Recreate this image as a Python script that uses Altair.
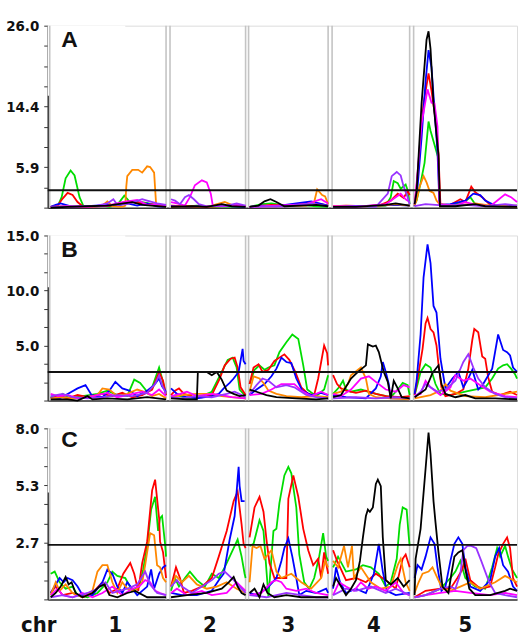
import altair as alt
import pandas as pd

# ---------------- categories / layout data ----------------
SERIES = ["green", "red", "blue", "orange", "magenta", "purple", "black"]
COLORS = ["#00dd00", "#ff0000", "#0000ff", "#ff8800", "#ff00ff", "#9933ff", "#000000"]
CHR_NAMES = ["1", "2", "3", "4", "5"]
CHR_SPLITS = [122, 201, 285, 367]          # positions separating chromosomes
CHR_LABEL_POS = [68, 163, 242, 328, 420]   # chromosome label centres
BOUNDARY_LINES = [2, 119, 123, 199, 202, 282, 286, 364, 368]
X_MAX = 472

# panel A ------------------------------------------------------------
A_green = [(3,0.1),(10,0.2),(14,1.5),(18,4.2),(23,5.3),(27,4.6),(32,1.5),(36,0.2),(45,0.1),(55,0.3),(62,0.1),(70,0.4),(77,1.7),(82,0.9),(95,0.8),(105,0.5),(115,0.2),(119,0.1),
           (124,0.2),(135,0.1),(150,0.3),(165,0.1),(180,0.2),(199,0.1),
           (203,0.1),(215,0.5),(225,0.6),(240,0.3),(255,0.4),(270,0.2),(282,0.1),
           (287,0.1),(300,0.2),(320,0.1),(340,0.3),(345,1.5),(348,3.8),(352,3.5),(355,2.7),(360,3.3),(362,2.5),(364,0.5),
           (369,0.5),(371,1.0),(375,3.5),(379,6.4),(383,12.3),(385,11.0),(388,9.5),(391,8.0),(393,7.0),(394,0.6),(400,0.3),(410,0.5),(420,0.9),(425,1.5),(430,0.5),(440,0.3),(455,0.2),(472,0.3)]
A_red = [(3,0.1),(10,0.3),(15,1.3),(20,2.1),(25,1.8),(30,0.8),(36,0.1),(50,0.2),(65,0.3),(80,0.9),(95,0.6),(110,0.4),(119,0.2),
         (124,0.3),(140,0.2),(160,0.1),(185,0.3),(199,0.2),
         (203,0.1),(225,0.4),(245,0.3),(265,0.8),(275,0.5),(282,0.3),
         (287,0.2),(300,0.3),(320,0.2),(335,0.4),(345,1.0),(352,2.0),(358,1.4),(362,2.4),(364,1.8),
         (369,0.3),(371,3.0),(374,8.0),(378,14.9),(383,19.2),(386,16.7),(391,11.6),(393,7.8),(395,0.2),(405,0.4),(415,1.2),(420,0.8),(426,3.0),(430,2.2),(437,1.5),(445,0.4),(460,0.2),(472,0.3)]
A_blue = [(3,0.1),(8,0.4),(13,0.6),(18,0.4),(25,0.1),(40,0.2),(60,0.4),(70,0.3),(80,0.6),(90,0.3),(100,0.6),(110,0.2),(119,0.1),
          (124,0.2),(140,0.1),(170,0.3),(199,0.1),
          (203,0.1),(215,0.3),(230,0.2),(250,0.6),(265,0.9),(282,0.3),
          (287,0.1),(310,0.2),(330,0.3),(350,0.4),(364,0.3),
          (369,0.2),(372,3.0),(376,10.0),(380,18.0),(383,22.5),(386,20.0),(389,14.0),(392,8.0),(394,0.4),(405,0.5),(420,1.0),(428,2.0),(435,1.8),(440,1.0),(450,0.3),(472,0.2)]
A_orange = [(3,0.1),(20,0.2),(40,0.1),(55,0.3),(60,0.9),(65,0.2),(75,0.1),(78,0.3),(79,3.0),(80,4.5),(85,5.4),(91,5.4),(95,5.0),(100,5.9),(103,5.8),(107,5.0),(109,0.5),(115,0.2),(119,0.1),
            (124,0.1),(140,0.2),(150,0.1),(165,0.3),(178,0.8),(185,0.4),(199,0.2),
            (203,0.1),(230,0.2),(260,0.3),(268,0.8),(271,2.6),(276,1.8),(279,1.6),(282,0.5),
            (287,0.2),(310,0.1),(335,0.3),(350,0.5),(364,0.3),
            (369,0.3),(371,1.1),(374,3.0),(378,4.5),(381,3.6),(384,2.4),(388,2.1),(391,1.0),(394,0.5),(410,0.3),(430,0.6),(445,0.3),(460,0.2),(472,0.1)]
A_magenta = [(3,0.1),(20,0.2),(40,0.1),(60,0.3),(75,0.8),(90,1.1),(100,0.4),(110,0.5),(119,0.3),
             (124,0.8),(130,0.6),(138,0.3),(143,1.5),(148,3.2),(155,3.9),(160,3.6),(164,2.0),(166,0.3),(175,0.2),(190,0.4),(199,0.2),
             (203,0.1),(230,0.3),(260,0.5),(275,1.2),(282,0.6),
             (287,0.2),(310,0.1),(340,0.5),(350,1.5),(355,2.0),(360,1.2),(364,0.8),
             (369,0.5),(372,5.0),(376,12.0),(382,16.9),(386,15.0),(389,14.9),(392,11.6),(394,0.5),(410,0.3),(420,0.8),(430,0.4),(445,0.2),(460,1.9),(466,1.5),(472,0.8)]
A_purple = [(3,0.1),(30,0.2),(50,0.3),(60,0.6),(66,1.2),(70,0.4),(80,0.5),(95,1.2),(100,1.0),(110,0.6),(119,0.4),
            (124,1.2),(128,1.0),(133,0.5),(138,1.5),(142,1.8),(147,1.2),(152,0.5),(160,0.2),(180,0.3),(190,0.6),(199,0.3),
            (203,0.1),(240,0.2),(265,0.6),(282,0.2),
            (287,0.1),(310,0.2),(330,0.1),(342,2.0),(346,4.5),(351,5.1),(355,4.6),(358,3.0),(362,1.5),(364,0.5),
            (369,0.2),(380,0.5),(400,0.3),(420,0.4),(440,0.2),(460,0.5),(472,0.3)]
A_black = [(3,0.0),(20,0.1),(40,0.2),(60,0.3),(85,0.8),(95,0.4),(119,0.1),
           (124,0.1),(145,0.2),(160,0.1),(175,0.5),(185,0.2),(199,0.1),
           (203,0.1),(212,0.3),(218,0.9),(224,1.2),(230,0.8),(238,0.2),(255,0.3),(270,0.4),(282,0.2),
           (287,0.1),(310,0.1),(340,0.4),(350,0.6),(364,0.3),
           (369,0.5),(371,2.3),(376,14.9),(381,24.0),(383,25.2),(385,22.7),(388,14.9),(393,7.5),(394.5,0.2),(410,0.2),(430,0.5),(440,0.2),(472,0.1)]

# panel B ------------------------------------------------------------
B_green = [(3,0.3),(10,0.2),(15,0.6),(22,0.2),(35,0.4),(50,0.6),(60,0.9),(70,0.5),(80,0.4),(87,1.9),(93,1.6),(100,0.8),(105,1.2),(112,3.0),(115,2.0),(119,0.5),
           (124,0.3),(130,0.5),(140,0.2),(155,0.4),(165,0.8),(175,2.6),(181,3.7),(186,3.9),(190,3.0),(193,1.0),(199,0.4),
           (203,1.5),(208,2.8),(213,3.2),(218,2.8),(222,3.0),(228,3.2),(233,4.4),(240,5.3),(246,6.0),(252,5.6),(257,3.2),(261,1.0),(270,0.4),(278,1.0),(282,2.3),
           (287,0.6),(293,1.2),(297,1.8),(300,1.0),(305,0.8),(315,1.0),(330,0.6),(345,0.3),(352,1.0),(357,1.6),(362,1.4),(364,0.5),
           (369,0.5),(372,1.5),(375,2.6),(380,3.3),(385,3.0),(390,1.5),(395,0.6),(405,0.5),(420,0.8),(440,1.2),(447,2.0),(453,2.9),(458,3.2),(462,3.3),(466,2.9),(470,2.4),(472,2.0)]
B_red = [(3,0.2),(10,0.4),(20,0.2),(30,0.5),(40,0.3),(55,0.6),(65,0.4),(75,0.7),(85,0.3),(95,0.5),(105,1.0),(112,2.6),(116,1.8),(119,0.5),
         (124,0.5),(128,0.9),(132,1.1),(137,0.6),(145,0.4),(155,0.3),(165,0.5),(173,2.0),(178,3.2),(184,3.8),(188,3.9),(191,3.0),(194,1.2),(199,0.5),
         (203,1.5),(207,3.0),(212,3.3),(216,2.6),(222,2.8),(228,3.6),(233,3.9),(238,4.2),(243,3.7),(249,2.6),(255,1.2),(262,0.6),(268,0.5),(272,2.0),(275,3.5),(278,5.0),(281,4.3),(282,3.2),
         (287,2.3),(291,1.5),(295,1.1),(300,0.9),(310,0.7),(320,0.9),(330,0.6),(340,0.4),(355,0.3),(364,0.4),
         (369,0.5),(373,2.5),(377,4.7),(380,7.0),(382,7.5),(385,6.5),(388,6.2),(391,5.0),(393,3.3),(396,1.2),(400,0.4),(410,0.6),(418,1.0),(423,2.9),(427,5.5),(429,6.5),(433,6.2),(437,4.0),(440,3.8),(443,2.1),(447,0.8),(455,0.5),(465,0.8),(472,0.5)]
B_blue = [(3,0.3),(12,0.2),(20,0.6),(30,1.1),(38,1.4),(44,0.5),(55,0.3),(62,0.9),(68,1.7),(75,1.1),(82,0.9),(90,0.4),(100,0.9),(107,1.4),(112,2.0),(115,1.3),(119,0.8),
          (124,1.1),(130,0.6),(140,0.3),(150,0.2),(165,0.4),(172,0.6),(177,1.1),(183,1.6),(187,2.0),(192,2.6),(196,4.7),(197,3.6),(199,3.3),
          (203,0.5),(210,1.0),(218,1.5),(225,2.2),(230,2.9),(235,3.9),(240,3.5),(245,3.4),(250,2.0),(256,0.9),(265,0.5),(275,0.7),(282,0.5),
          (287,0.5),(300,0.3),(320,0.2),(330,1.1),(335,2.2),(337,3.5),(340,2.6),(343,1.5),(345,0.2),(355,0.2),(364,0.1),
          (369,0.6),(371,1.8),(375,6.0),(378,11.2),(382,14.2),(385,12.5),(388,8.6),(391,8.0),(395,3.8),(400,1.1),(407,2.0),(413,2.6),(418,1.2),(423,2.0),(427,2.8),(433,1.0),(438,1.5),(447,2.9),(453,6.0),(458,4.6),(462,4.4),(465,4.1),(468,3.0),(472,2.6)]
B_orange = [(3,0.2),(15,0.3),(25,0.2),(40,0.3),(50,0.5),(55,1.1),(62,1.0),(70,0.4),(80,0.6),(90,1.0),(97,0.8),(105,0.4),(112,0.6),(119,0.2),
            (124,0.3),(135,0.5),(150,0.6),(165,0.6),(175,0.4),(185,0.3),(199,0.2),
            (203,0.8),(207,2.2),(213,2.0),(217,1.6),(222,0.9),(230,0.6),(240,0.4),(255,0.3),(270,0.4),(282,0.3),
            (287,0.6),(295,0.8),(302,1.5),(305,2.3),(315,3.0),(320,2.0),(323,0.6),(330,0.3),(345,0.2),(364,0.1),
            (369,0.2),(385,0.5),(395,0.9),(400,1.5),(405,0.9),(420,0.4),(440,0.3),(460,0.6),(472,0.8)]
B_magenta = [(3,0.6),(10,0.4),(20,0.5),(30,0.2),(45,0.4),(60,0.7),(70,0.3),(80,0.5),(95,0.8),(105,0.5),(112,1.0),(119,0.4),
             (124,0.4),(133,0.6),(140,0.8),(150,0.4),(165,0.6),(175,0.5),(185,0.3),(199,0.2),
             (203,0.5),(215,0.6),(225,1.0),(235,1.5),(248,1.5),(255,0.9),(265,0.4),(275,0.8),(282,0.5),
             (287,0.6),(295,0.4),(305,1.0),(315,2.0),(323,2.2),(330,1.7),(340,1.0),(350,0.8),(358,1.4),(364,1.2),
             (369,0.5),(375,0.6),(380,1.8),(385,1.2),(395,0.5),(405,1.2),(410,2.3),(418,1.8),(425,2.0),(435,1.4),(445,0.8),(460,0.4),(472,0.3)]
B_purple = [(3,0.4),(15,0.6),(25,0.3),(40,0.2),(55,0.3),(70,0.5),(85,0.4),(100,0.7),(108,1.5),(112,2.3),(115,1.4),(119,0.6),
            (124,0.3),(135,0.2),(150,0.4),(165,0.3),(180,0.6),(188,0.8),(195,0.5),(199,0.3),
            (203,0.6),(210,1.4),(216,2.0),(222,1.8),(230,1.2),(240,1.4),(248,1.2),(260,0.5),(270,0.3),(282,0.2),
            (287,0.2),(310,0.3),(330,0.2),(350,0.3),(364,0.2),
            (369,0.3),(375,0.8),(380,1.5),(385,1.2),(392,0.8),(400,1.0),(410,1.8),(418,3.5),(423,4.2),(428,3.0),(433,2.0),(440,1.2),(450,0.6),(460,0.3),(472,0.2)]
B_black = [(3,0.1),(20,0.1),(30,0.0),(40,0.4),(45,0.1),(60,0.2),(80,0.1),(100,0.3),(119,0.1),
           (124,0.2),(140,0.1),(150,0.1),(151,2.6),(160,2.6),(165,2.3),(170,2.6),(175,1.9),(180,0.9),(187,0.6),(193,0.4),(199,0.5),
           (203,1.0),(210,0.8),(220,0.5),(230,0.3),(250,0.2),(270,0.1),(282,0.2),
           (287,0.3),(295,0.5),(305,2.0),(312,2.6),(320,3.2),(322,5.1),(327,4.9),(330,5.0),(333,4.4),(338,2.6),(342,1.7),(345,0.2),(348,1.8),(352,1.1),(356,0.3),(364,0.2),
           (369,0.3),(380,1.0),(387,2.5),(393,3.2),(396,1.5),(400,0.6),(410,0.3),(420,0.5),(430,0.2),(450,0.2),(472,0.1)]

# panel C ------------------------------------------------------------
C_green = [(3,1.2),(7,1.3),(12,0.8),(18,0.5),(25,0.6),(30,0.2),(40,0.1),(50,0.3),(60,0.8),(65,1.3),(70,1.1),(78,1.0),(85,0.4),(92,0.6),(96,1.4),(100,2.5),(104,4.2),(108,4.8),(111,3.2),(113,3.8),(115,3.9),(118,2.6),(119,2.0),
           (124,0.4),(128,1.0),(132,0.6),(138,1.0),(143,1.3),(150,0.9),(158,0.6),(165,1.2),(172,1.0),(178,1.5),(185,2.2),(191,2.8),(195,2.0),(198,1.2),(199,1.0),
           (203,2.5),(207,2.6),(213,3.7),(217,3.2),(222,0.1),(227,3.2),(230,3.3),(233,4.5),(238,5.8),(242,6.2),(245,5.9),(250,4.3),(253,2.1),(258,0.8),(263,0.5),(268,1.0),(273,2.0),(277,3.1),(280,2.0),(282,1.8),
           (287,1.5),(292,2.0),(300,1.3),(310,1.4),(317,1.6),(325,1.5),(333,1.2),(340,0.6),(345,0.8),(351,1.9),(354,3.5),(357,4.3),(361,4.2),(363,3.0),(364,2.5),
           (369,0.1),(380,0.2),(395,0.5),(405,1.0),(410,1.3),(415,1.8),(420,1.0),(430,0.6),(440,0.5),(447,1.5),(452,2.4),(455,2.0),(460,2.5),(463,2.0),(467,1.4),(472,1.0)]
C_red = [(3,0.3),(8,0.6),(15,0.2),(25,0.3),(35,0.1),(45,0.3),(55,0.8),(62,0.3),(70,0.5),(76,1.2),(83,1.7),(87,1.2),(91,0.4),(95,1.7),(100,2.7),(105,5.1),(108,5.6),(112,3.8),(113,2.7),(116,2.2),(119,1.0),
         (124,0.6),(129,1.5),(133,1.0),(137,0.3),(145,0.4),(155,0.6),(165,1.0),(172,2.0),(180,3.2),(187,4.6),(191,5.05),(195,3.5),(197,2.6),(199,2.4),
         (203,2.9),(208,4.3),(213,4.8),(217,4.1),(220,2.8),(223,1.7),(228,1.0),(240,1.0),(242,4.7),(247,5.8),(252,4.8),(257,3.3),(262,2.3),(267,1.6),(272,1.9),(275,1.0),(278,2.2),(282,1.2),
         (287,2.3),(291,1.8),(295,1.4),(300,0.9),(310,1.0),(320,0.8),(330,1.2),(340,0.9),(350,0.5),(357,1.9),(360,2.1),(364,1.5),
         (369,0.1),(380,0.4),(395,0.5),(405,0.5),(412,1.0),(417,1.4),(420,1.9),(425,0.9),(435,0.5),(445,0.6),(450,1.5),(453,2.1),(458,2.6),(462,2.9),(465,2.4),(468,1.0),(472,0.6)]
C_blue = [(3,0.3),(8,0.7),(12,1.0),(16,0.8),(20,1.0),(25,0.9),(30,0.6),(35,0.2),(45,0.2),(55,0.8),(60,1.4),(65,1.2),(70,0.6),(75,0.3),(80,0.8),(90,0.2),(95,0.4),(100,0.6),(104,1.4),(107,0.5),(112,1.2),(116,1.5),(119,1.6),
          (124,0.3),(135,0.2),(150,0.2),(165,0.4),(172,0.9),(177,1.2),(183,2.8),(188,3.9),(192,6.2),(193,5.3),(195,4.6),(198,4.6),
          (203,0.3),(210,0.2),(220,0.5),(230,1.0),(235,1.8),(238,2.4),(242,2.85),(246,2.0),(250,1.0),(253,0.2),(260,0.4),(270,0.3),(280,0.5),(282,0.3),
          (287,0.5),(290,1.5),(294,0.8),(300,0.3),(310,0.5),(320,0.3),(328,1.2),(333,2.6),(337,1.3),(341,0.4),(350,0.2),(364,0.3),
          (369,1.0),(372,1.6),(376,1.4),(380,2.0),(385,2.9),(389,2.6),(392,1.5),(396,0.4),(400,0.6),(405,1.8),(409,2.6),(413,2.9),(417,2.6),(420,1.5),(425,0.6),(435,0.4),(445,0.9),(450,2.0),(454,2.4),(458,1.6),(463,1.3),(468,0.6),(472,0.4)]
C_orange = [(3,0.2),(8,0.8),(12,0.4),(18,0.7),(25,0.3),(35,0.1),(45,0.4),(50,1.3),(55,1.6),(60,1.6),(65,0.8),(70,0.3),(75,0.8),(80,0.5),(88,0.4),(95,0.8),(98,1.6),(103,3.1),(107,3.0),(110,1.6),(113,1.5),(116,1.0),(119,0.8),
            (124,0.6),(129,1.1),(135,0.8),(142,1.1),(150,0.7),(160,0.5),(170,0.6),(180,0.8),(190,0.5),(199,0.3),
            (203,0.8),(206,2.5),(210,2.4),(214,2.5),(218,1.9),(225,2.3),(230,1.3),(235,1.0),(245,1.2),(255,0.8),(265,0.5),(275,1.0),(279,1.8),(282,1.5),
            (287,1.8),(292,1.5),(298,2.5),(302,1.5),(306,2.5),(308,1.0),(315,1.5),(325,0.8),(335,0.5),(345,0.6),(352,1.6),(355,1.9),(360,0.8),(364,0.4),
            (369,0.3),(373,0.8),(377,1.2),(383,1.3),(387,1.5),(392,1.0),(397,0.5),(405,0.4),(415,0.6),(425,0.8),(435,0.5),(450,0.8),(460,1.1),(472,0.8)]
C_magenta = [(3,0.2),(10,0.5),(15,0.2),(25,0.1),(35,0.3),(45,0.1),(55,0.3),(65,0.6),(75,0.2),(85,0.5),(92,0.6),(98,0.9),(103,0.8),(108,0.4),(113,0.3),(119,0.2),
             (124,0.3),(130,0.5),(140,0.2),(155,0.4),(165,0.2),(180,0.3),(190,0.8),(199,0.4),
             (203,0.2),(215,0.3),(225,0.8),(230,0.9),(235,0.8),(240,0.5),(250,0.4),(260,0.5),(270,0.3),(282,0.2),
             (287,0.2),(293,0.8),(300,0.6),(308,0.4),(315,0.8),(322,0.5),(330,0.6),(340,0.4),(350,0.8),(358,0.3),(364,0.2),
             (369,0.1),(380,0.2),(395,0.3),(410,0.4),(425,0.3),(445,0.2),(460,0.3),(472,0.2)]
C_purple = [(3,0.1),(15,0.2),(25,0.1),(40,0.3),(50,0.5),(58,0.8),(65,0.3),(80,0.5),(90,0.7),(98,1.3),(103,0.7),(110,0.3),(119,0.2),
            (124,0.6),(130,0.9),(135,0.6),(145,0.3),(155,0.6),(165,0.9),(172,1.2),(178,1.3),(185,1.0),(193,0.6),(199,0.3),
            (203,0.2),(220,0.1),(240,0.3),(255,0.2),(270,0.1),(282,0.1),
            (287,0.2),(300,0.5),(310,0.4),(325,0.6),(340,0.3),(350,0.5),(364,0.2),
            (369,0.1),(380,0.2),(395,0.5),(405,0.6),(410,0.5),(415,1.2),(418,2.3),(422,2.5),(426,2.5),(431,2.4),(436,1.8),(440,1.3),(444,0.8),(450,0.3),(460,0.2),(472,0.1)]
C_black = [(3,0.1),(8,0.3),(13,0.6),(18,1.05),(21,0.7),(24,0.8),(28,0.3),(35,0.1),(45,0.3),(52,0.6),(57,0.7),(62,0.2),(70,0.1),(80,0.3),(88,0.4),(100,0.1),(119,0.1),
           (124,0.1),(140,0.2),(160,0.3),(175,0.5),(182,0.8),(187,1.05),(191,0.6),(195,0.3),(199,0.2),
           (203,0.3),(208,0.5),(213,0.1),(217,0.7),(221,0.3),(228,0.1),(240,0.2),(255,0.1),(282,0.1),
           (287,0.6),(290,1.0),(295,0.6),(300,0.2),(305,0.5),(310,0.9),(314,1.8),(317,2.9),(320,3.9),(322,4.2),(324,4.1),(327,4.3),(330,5.4),(332,5.6),(335,5.3),(337,2.9),(340,0.9),(345,0.7),(352,1.0),(358,0.6),(364,0.9),
           (369,0.2),(370,1.9),(375,3.3),(380,6.1),(383,7.8),(385,6.8),(388,4.6),(390,3.6),(393,2.2),(397,0.6),(403,0.3),(406,1.2),(409,2.0),(413,2.2),(417,2.3),(420,1.4),(424,0.5),(430,0.2),(445,0.2),(460,0.4),(465,0.5),(472,0.4)]

# axis settings per panel: top value, labelled tick indices (of 9 intervals) and their text
A_YMAX, A_LABELS, A_THRESH = 26.0, {2: "5.9", 5: "14.4", 9: "26.0"}, 2.5
B_YMAX, B_LABELS, B_THRESH = 15.0, {3: "5.0", 6: "10.0", 9: "15.0"}, 2.6
C_YMAX, C_LABELS, C_THRESH = 8.0, {3: "2.7", 6: "5.3", 9: "8.0"}, 2.55

FONT_NARROW = "Liberation Sans Narrow, DejaVu Sans Condensed, Arial Narrow, sans-serif"


def make_df(series_lists):
    rows = []
    for name, pts in zip(SERIES, series_lists):
        for p, v in pts:
            c = sum(p >= s for s in CHR_SPLITS)
            rows.append({"series": name, "chr": CHR_NAMES[c], "seg": f"{name}-{c}", "pos": p, "lod": v})
    return pd.DataFrame(rows)


def panel(series_lists, ymax, labels, thresh, height, letter, letter_y, box_lod, chr_axis=False):
    ticks = [round(ymax * k / 9, 4) for k in range(10)]
    expr = ""
    for k, t in labels.items():
        expr += f"abs(datum.value - {ticks[k]}) < 0.01 ? '{t}' : "
    expr += "''"

    xs = alt.Scale(domain=[0, X_MAX], nice=False, zero=False)
    ys = alt.Scale(domain=[0, ymax], nice=False, zero=True)
    x_axis = alt.Axis(title=None, labels=False, ticks=False, grid=False, domain=True,
                      domainColor="#333333", domainWidth=1.5)
    y_axis = alt.Axis(title=None, values=ticks, labelExpr=expr, grid=False,
                      labelOverlap=False, labelFlush=False, labelBound=False,
                      tickSize=4, tickColor="#333333", tickWidth=1,
                      domainColor="#333333", domainWidth=1.5,
                      labelFont=FONT_NARROW, labelFontSize=15, labelFontWeight="bold",
                      labelColor="#111111", labelPadding=5)

    def X(field):
        return alt.X(field, scale=xs, axis=x_axis)

    def Y(field):
        return alt.Y(field, scale=ys, axis=y_axis)

    box = alt.Chart(pd.DataFrame({"x": [0], "x2": [78], "y": [box_lod], "y2": [ymax]})).mark_rect(
        color="white").encode(x=X("x:Q"), x2="x2:Q", y=Y("y:Q"), y2="y2:Q")

    bounds = alt.Chart(pd.DataFrame({"pos": BOUNDARY_LINES})).mark_rule(
        color="#c4c4c4", strokeWidth=1.6).encode(x=X("pos:Q"))

    lines = alt.Chart(make_df(series_lists)).mark_line(strokeWidth=1.8).encode(
        x=X("pos:Q"),
        y=Y("lod:Q"),
        color=alt.Color("series:N", scale=alt.Scale(domain=SERIES, range=COLORS), legend=None),
        detail="seg:N",
        order=alt.Order("pos:Q"),
    )

    thr = alt.Chart(pd.DataFrame({"t": [thresh]})).mark_rule(color="#111111", strokeWidth=2).encode(
        y=Y("t:Q"))

    lab = alt.Chart(pd.DataFrame({"t": [letter]})).mark_text(
        font="Liberation Sans, Arial, sans-serif", fontSize=23, fontWeight="bold",
        align="center", baseline="alphabetic", color="#111111").encode(
        text="t:N", x=alt.value(22), y=alt.value(letter_y))

    layers = [box, bounds, lines, thr, lab]
    if chr_axis:
        chr_df = pd.DataFrame({"pos": CHR_LABEL_POS, "name": CHR_NAMES})
        chr_txt = alt.Chart(chr_df).mark_text(
            font=FONT_NARROW, fontSize=22, fontWeight="bold", baseline="alphabetic",
            align="center", color="#111111").encode(
            x=X("pos:Q"), y=alt.value(height + 33), text="name:N")
        chr_word = alt.Chart(pd.DataFrame({"pos": [-9], "name": ["chr"]})).mark_text(
            font=FONT_NARROW, fontSize=22, fontWeight="bold", baseline="alphabetic",
            align="center", color="#111111").encode(
            x=X("pos:Q"), y=alt.value(height + 33), text="name:N")
        layers += [chr_txt, chr_word]

    return alt.layer(*layers).properties(width=X_MAX, height=height)


pA = panel([A_green, A_red, A_blue, A_orange, A_magenta, A_purple, A_black],
           A_YMAX, A_LABELS, A_THRESH, 183, "A", 21, 16.0)
pB = panel([B_green, B_red, B_blue, B_orange, B_magenta, B_purple, B_black],
           B_YMAX, B_LABELS, B_THRESH, 166, "B", 22, 10.3)
pC = panel([C_green, C_red, C_blue, C_orange, C_magenta, C_purple, C_black],
           C_YMAX, C_LABELS, C_THRESH, 172, "C", 19, 5.0, chr_axis=True)

chart = alt.vconcat(pA, pB, pC, spacing=28, bounds="flush").properties(
    padding={"left": 5, "top": 16, "right": 0, "bottom": 0}
).resolve_scale(x="independent", y="independent").configure_view(
    fill="#f7f7f7", stroke=None).configure_axis(labelOverlap=False).configure(background="white")

chart.save("out.html", embed_options={"renderer": "svg", "actions": False})
